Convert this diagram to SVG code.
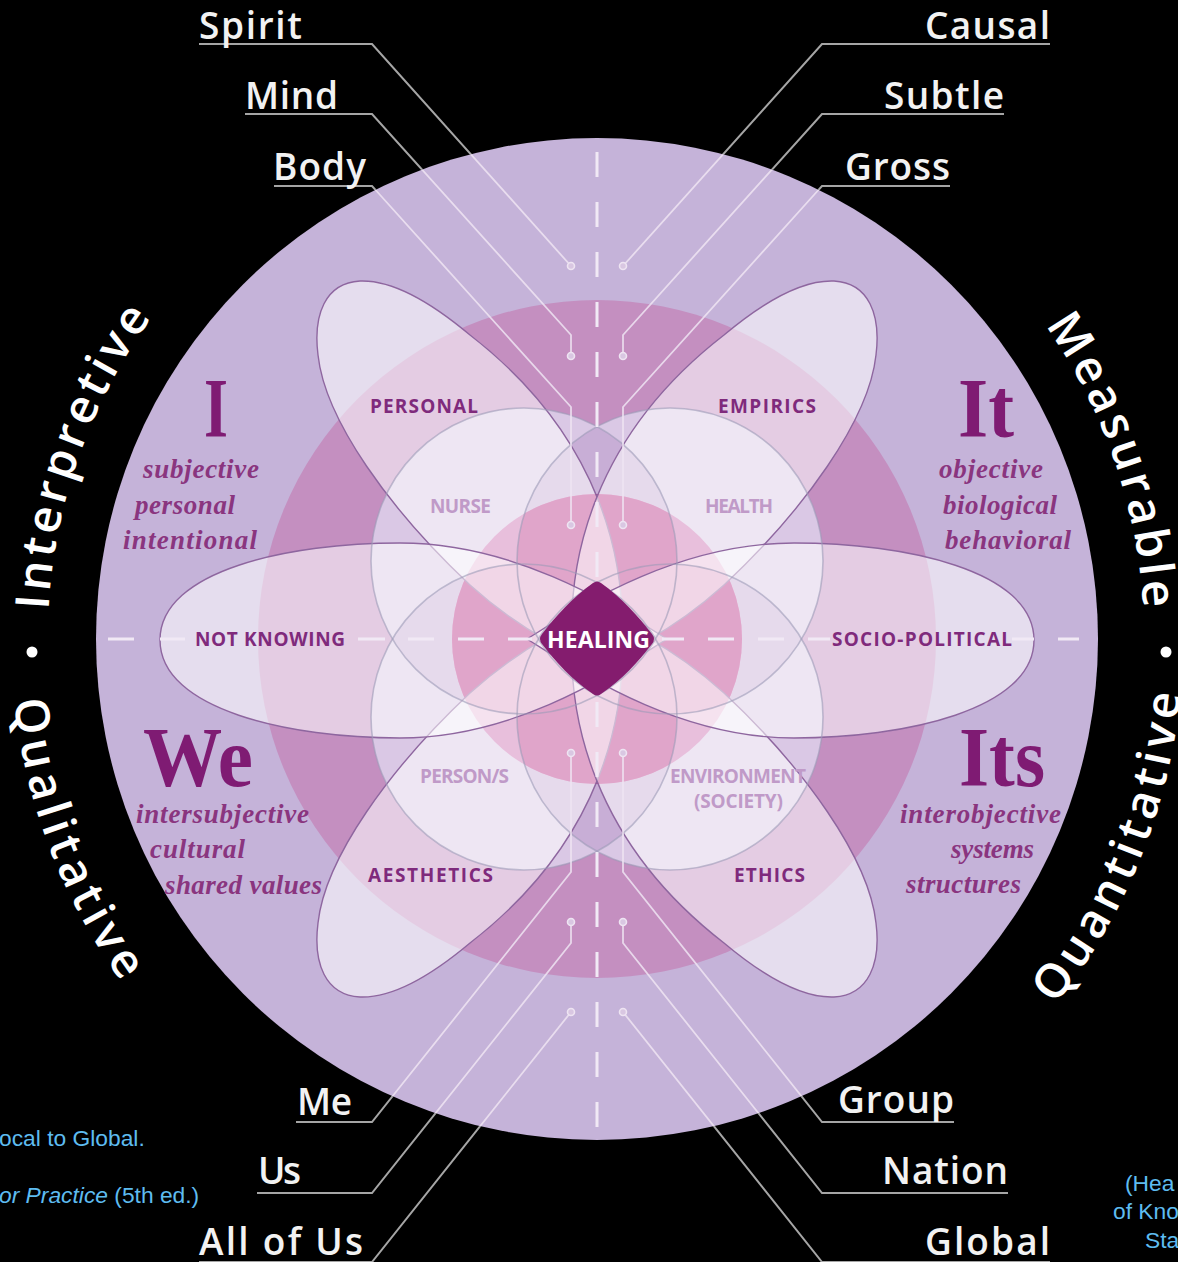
<svg xmlns="http://www.w3.org/2000/svg" width="1178" height="1262" viewBox="0 0 1178 1262">
<style>
.big{font:700 84px "Liberation Serif",serif;fill:#7f1b73}
.it{font:italic 700 27px "Liberation Serif",serif;fill:#8a357f}
.lvl{font:600 37px "Open Sans",sans-serif;fill:#f2f2f2}
.arc{font:600 47px "Open Sans",sans-serif;fill:#fff}
.dim{font:700 19px "Open Sans",sans-serif;fill:#c09ac8}
.dark{font:700 19px "Open Sans",sans-serif;fill:#7f2a7c}
.blue{font:22.8px "Liberation Sans",sans-serif;fill:#5ebcf0}
.petal{fill:#fff;fill-opacity:.55;stroke:#8e669f;stroke-width:1.4}
.ring{fill:none;stroke:#9c9bb8;stroke-width:1.6;stroke-opacity:.6}
.dash{fill:none;stroke:#f1e9f5;stroke-width:3}
.pale{fill:none;stroke:#eee4f2;stroke-width:1.8;stroke-opacity:.85}
.grey{fill:none;stroke:#a5a5a5;stroke-width:2}
.dot{fill:#d9c7e2;stroke:#eee4f2;stroke-width:1.6}
</style>
<defs>
<clipPath id="cN"><circle cx="524" cy="561" r="153"/></clipPath>
<clipPath id="cH"><circle cx="670" cy="561" r="153"/></clipPath>
<clipPath id="cP"><circle cx="524" cy="717" r="153"/></clipPath>
<clipPath id="cE"><circle cx="670" cy="717" r="153"/></clipPath>
<clipPath id="cI"><circle cx="597" cy="639" r="145"/></clipPath>
<clipPath id="inDisc"><circle cx="597" cy="639" r="501"/></clipPath>
<clipPath id="outDisc"><path clip-rule="evenodd" d="M0 0H1178V1262H0ZM96 639a501 501 0 1 0 1002 0a501 501 0 1 0 -1002 0Z"/></clipPath>
<path id="pTL" d="M620 668C632 560 598 434 470 335C420 293 385 280 360 281C325 283 313 315 318 355C325 420 390 510 470 585C520 630 575 660 620 668Z"/>
<path id="pL" d="M667 639C620 610 520 543 400 543C290 543 160 570 160 640C160 710 290 738 400 738C520 738 620 668 667 639Z"/>
<path id="a1" d="M48.500 610.300A549 549 0 0 1 597 90"/>
<path id="a2" d="M14 700A586 586 0 0 0 597 1225"/>
<path id="a3" d="M1045 325A547 547 0 0 1 1144 650"/>
<path id="a4" d="M1055 1005A586 586 0 0 0 1183 640"/>
</defs>
<rect width="1178" height="1262" fill="#000"/>
<g id="disc">
<circle cx="597" cy="639" r="501" fill="#c5b3d9"/>
<circle cx="597" cy="639" r="339" fill="#c48fc0"/>
<g fill="#dac8e5">
<circle cx="524" cy="561" r="153"/><circle cx="670" cy="561" r="153"/><circle cx="524" cy="717" r="153"/><circle cx="670" cy="717" r="153"/>
</g>
<g fill="#c8aed6">
<circle cx="670" cy="561" r="153" clip-path="url(#cN)"/>
<circle cx="670" cy="717" r="153" clip-path="url(#cP)"/>
<circle cx="524" cy="717" r="153" clip-path="url(#cN)"/>
<circle cx="670" cy="717" r="153" clip-path="url(#cH)"/>
</g>
<circle cx="597" cy="639" r="145" fill="#cc71b2"/>
<g clip-path="url(#cI)" fill="#bb388a">
<circle cx="670" cy="561" r="153" clip-path="url(#cN)"/>
<circle cx="670" cy="717" r="153" clip-path="url(#cP)"/>
<circle cx="524" cy="717" r="153" clip-path="url(#cN)"/>
<circle cx="670" cy="717" r="153" clip-path="url(#cH)"/>
</g>
</g>
<g id="petals" class="petal">
<use href="#pTL"/>
<use href="#pTL" transform="matrix(-1 0 0 1 1194 0)"/>
<use href="#pTL" transform="matrix(1 0 0 -1 0 1278)"/>
<use href="#pTL" transform="matrix(-1 0 0 -1 1194 1278)"/>
<use href="#pL"/>
<use href="#pL" transform="matrix(-1 0 0 1 1194 0)"/>
</g>
<g id="rings" class="ring">
<circle cx="524" cy="561" r="153"/><circle cx="670" cy="561" r="153"/><circle cx="524" cy="717" r="153"/><circle cx="670" cy="717" r="153"/>
</g>
<g id="axes" class="dash">
<path stroke-dasharray="25 25" d="M597 152V1127"/>
<path d="M108 639h26M160 639h25M358 639h27M408 639h26M458 639h26M508 639h24M662 639h22M708 639h26M758 639h26M808 639h22M1012 639h22M1058 639h21"/>
</g>
<g id="connectors">
<g class="grey" clip-path="url(#outDisc)">
<path d="M199 44H372L571 266"/><path d="M245 114H372L571 335"/><path d="M274 186H372L571 407"/>
<path d="M1050 44H822L623 266"/><path d="M1004 114H822L623 335"/><path d="M950 186H822L623 407"/>
<path d="M296 1122H372L571 872"/><path d="M257 1193H372L571 943"/><path d="M199 1262H372L571 1012"/>
<path d="M954 1122H822L623 872"/><path d="M1008 1193H822L623 943"/><path d="M1050 1262H822L623 1012"/>
</g>
<g class="pale" clip-path="url(#inDisc)">
<path d="M372 44L571 266"/><path d="M372 114L571 335V356"/><path d="M372 186L571 407V524"/>
<path d="M822 44L623 266"/><path d="M822 114L623 335V356"/><path d="M822 186L623 407V524"/>
<path d="M372 1122L571 872V753"/><path d="M372 1193L571 943V922"/><path d="M372 1262L571 1012"/>
<path d="M822 1122L623 872V753"/><path d="M822 1193L623 943V922"/><path d="M822 1262L623 1012"/>
</g>
<g class="dot">
<circle cx="571" cy="266" r="3.5"/><circle cx="571" cy="356" r="3.5"/><circle cx="571" cy="525" r="3.5"/>
<circle cx="623" cy="266" r="3.5"/><circle cx="623" cy="356" r="3.5"/><circle cx="623" cy="525" r="3.5"/>
<circle cx="571" cy="753" r="3.5"/><circle cx="571" cy="922" r="3.5"/><circle cx="571" cy="1012" r="3.5"/>
<circle cx="623" cy="753" r="3.5"/><circle cx="623" cy="922" r="3.5"/><circle cx="623" cy="1012" r="3.5"/>
</g>
</g>
<g id="healing">
<path fill="#841c6e" d="M593 583Q597 580 601 583C622 598 638 616 652 634Q656 639 652 644C638 662 622 680 601 694Q597 697 593 694C572 680 556 662 542 644Q538 639 542 634C556 616 572 598 593 583Z"/>
<text x="547" y="648" textLength="103" style="font:700 23px 'Open Sans',sans-serif;fill:#fff">HEALING</text>
</g>
<g id="domains">
<text class="dark" x="370" y="413" textLength="108">PERSONAL</text>
<text class="dark" x="718" y="413" textLength="98">EMPIRICS</text>
<text class="dark" x="195" y="646" textLength="150">NOT KNOWING</text>
<text class="dark" x="832" y="646" textLength="180">SOCIO-POLITICAL</text>
<text class="dark" x="368" y="882" textLength="125">AESTHETICS</text>
<text class="dark" x="734" y="882" textLength="71">ETHICS</text>
<text class="dim" x="430" y="513" textLength="61">NURSE</text>
<text class="dim" x="705" y="513" textLength="68">HEALTH</text>
<text class="dim" x="420" y="783" textLength="89">PERSON/S</text>
<text class="dim" x="670" y="783" textLength="136">ENVIRONMENT</text>
<text class="dim" x="694" y="808" textLength="89">(SOCIETY)</text>
</g>
<g id="quadrant-I">
<text class="big" x="204" y="437" textLength="24" lengthAdjust="spacingAndGlyphs">I</text>
<text class="it" x="143" y="478" textLength="116">subjective</text>
<text class="it" x="135" y="514" textLength="100">personal</text>
<text class="it" x="123" y="549" textLength="134">intentional</text>
</g>
<g id="quadrant-It">
<text class="big" x="958" y="437" textLength="56" lengthAdjust="spacingAndGlyphs">It</text>
<text class="it" x="939" y="478" textLength="104">objective</text>
<text class="it" x="943" y="514" textLength="114">biological</text>
<text class="it" x="945" y="549" textLength="126">behavioral</text>
</g>
<g id="quadrant-We">
<text class="big" x="143" y="786" textLength="110" lengthAdjust="spacingAndGlyphs">We</text>
<text class="it" x="136" y="823" textLength="173">intersubjective</text>
<text class="it" x="150" y="858" textLength="95">cultural</text>
<text class="it" x="165" y="894" textLength="157">shared values</text>
</g>
<g id="quadrant-Its">
<text class="big" x="959" y="786" textLength="86" lengthAdjust="spacingAndGlyphs">Its</text>
<text class="it" x="900" y="823" textLength="161">interobjective</text>
<text class="it" x="951" y="858" textLength="83">systems</text>
<text class="it" x="906" y="893" textLength="115">structures</text>
</g>
<g id="levels">
<text class="lvl" x="199" y="39" textLength="103">Spirit</text>
<text class="lvl" x="245" y="109" textLength="93">Mind</text>
<text class="lvl" x="273" y="180" textLength="93">Body</text>
<text class="lvl" x="925" y="39" textLength="125">Causal</text>
<text class="lvl" x="884" y="109" textLength="120">Subtle</text>
<text class="lvl" x="845" y="180" textLength="105">Gross</text>
<text class="lvl" x="297" y="1115" textLength="55">Me</text>
<text class="lvl" x="258" y="1184" textLength="43">Us</text>
<text class="lvl" x="199" y="1255" textLength="164">All of Us</text>
<text class="lvl" x="838" y="1113" textLength="116">Group</text>
<text class="lvl" x="882" y="1184" textLength="126">Nation</text>
<text class="lvl" x="925" y="1255" textLength="125">Global</text>
</g>
<g id="arcs">
<text class="arc" letter-spacing="4"><textPath href="#a1">Interpretive</textPath></text>
<text class="arc" letter-spacing="5.500"><textPath href="#a2">Qualitative</textPath></text>
<text class="arc" letter-spacing="4"><textPath href="#a3">Measurable</textPath></text>
<text class="arc" letter-spacing="5"><textPath href="#a4">Quantitative</textPath></text>
<circle cx="32" cy="652" r="5.500" fill="#fff"/>
<circle cx="1166" cy="652" r="5.500" fill="#fff"/>
</g>
<g id="captions">
<text class="blue" x="-1" y="1146">ocal to Global.</text>
<text class="blue" x="-1" y="1203"><tspan font-style="italic">or Practice</tspan> (5th ed.)</text>
<text class="blue" x="1125" y="1191">(Hea</text>
<text class="blue" x="1113" y="1219">of Kno</text>
<text class="blue" x="1145" y="1248">Sta</text>
</g>
</svg>
